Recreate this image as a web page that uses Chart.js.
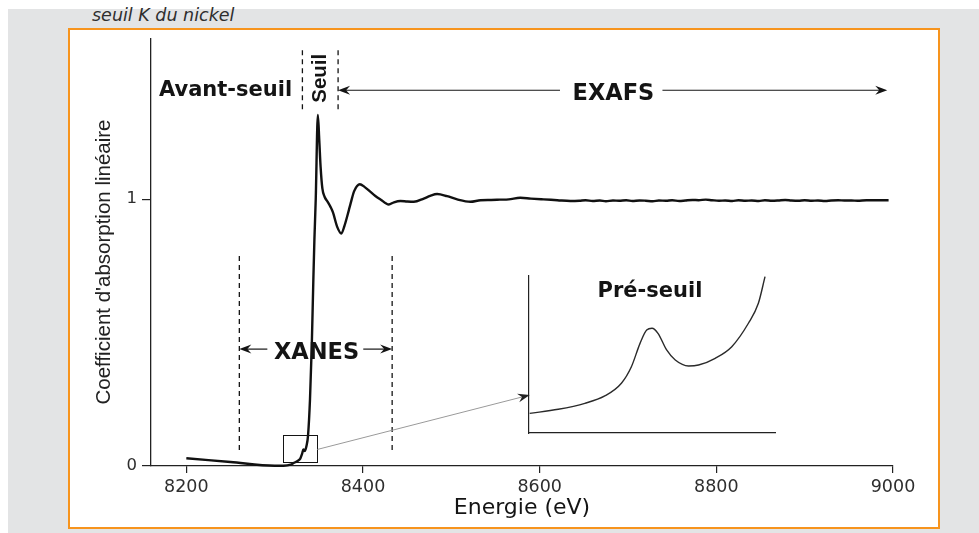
<!DOCTYPE html>
<html lang="fr">
<head>
<meta charset="utf-8">
<title>Seuil K du nickel</title>
<script src="https://cdn.jsdelivr.net/npm/chart.js@4.4.1/dist/chart.umd.min.js"></script>
<style>
  html, body { margin: 0; padding: 0; width: 979px; height: 533px; overflow: hidden; background: #fff; }
  #page { position: absolute; left: 8px; top: 9px; width: 971px; height: 524px; background: #e3e4e5; }
  #frame { position: absolute; left: 68px; top: 28px; width: 868px; height: 497px; border: 2px solid #f7941d; background: #fff; }
  #caption { position: absolute; left: 92px; top: 7px; font: italic 17.5px "DejaVu Sans", sans-serif; line-height: 1; color: #2e2e2e; white-space: nowrap; }
  #main { position: absolute; left: 0; top: 0; }
  #inset { position: absolute; left: 527px; top: 272px; }
</style>
</head>
<body>
<div id="page"></div>
<div id="frame"></div>
<div id="caption">seuil K du nickel</div>
<canvas id="main" width="979" height="533"></canvas>
<canvas id="inset" width="250" height="163"></canvas>
<script>
// Absorption spectrum at the Ni K edge: energy (eV) and linear absorption coefficient
const energy = [
  8200, 8250, 8300, 8310, 8318, 8322, 8326, 8329, 8331, 8332.5, 8334, 8336,
  8337.8, 8340, 8342, 8343.8, 8345, 8346.5, 8348.9, 8350.5, 8352, 8354, 8356.5,
  8360, 8363.2, 8366, 8370.8, 8375.5, 8379, 8384, 8386, 8390, 8396.4, 8402,
  8408.5, 8414, 8419.8, 8429.2, 8435, 8442.4, 8450, 8457.5, 8468.8, 8476, 8483.9,
  8495.2, 8506.6, 8521.6, 8533, 8545, 8555, 8565, 8578, 8590, 8604.5, 8620, 8634.7,
  8645, 8652, 8660, 8668, 8675, 8683, 8690, 8698, 8705, 8713, 8720, 8728, 8735,
  8743, 8750, 8758, 8765, 8773, 8780, 8788, 8795, 8803, 8810, 8818, 8825, 8833,
  8840, 8848, 8855, 8863, 8870, 8878, 8885, 8893, 8900, 8908, 8915, 8923, 8930,
  8938, 8945, 8953, 8960, 8970, 8980, 8995
];
const absorption = [
  0.029, 0.015, 0.001, 0.001, 0.005, 0.012, 0.019, 0.028, 0.045, 0.062, 0.056, 0.075,
  0.115, 0.25, 0.45, 0.70, 0.85, 1.00, 1.315, 1.22, 1.121, 1.04, 1.009,
  0.99, 0.971, 0.95, 0.896, 0.871, 0.90, 0.959, 0.984, 1.03, 1.056, 1.045,
  1.027, 1.012, 0.999, 0.980, 0.988, 0.993, 0.991, 0.990, 1.002, 1.012, 1.019,
  1.011, 0.999, 0.990, 0.996, 0.997, 0.998, 0.999, 1.005, 1.002, 0.999, 0.996, 0.993,
  0.994, 0.996, 0.993, 0.995, 0.992, 0.995, 0.994, 0.996, 0.993, 0.995, 0.994, 0.992, 0.995,
  0.994, 0.996, 0.993, 0.995, 0.997, 0.996, 0.998, 0.996, 0.994, 0.995, 0.993, 0.996, 0.994,
  0.995, 0.993, 0.996, 0.994, 0.995, 0.997, 0.995, 0.994, 0.996, 0.994, 0.995, 0.993, 0.995,
  0.996, 0.995, 0.995, 0.994, 0.996, 0.996, 0.996
];
const xTickValues = [8200, 8400, 8600, 8800, 9000];
const yTickValues = [0, 1];

// Pre-edge detail (zoomed view)
const insetEnergy = [
  8310.1, 8314.4, 8318.4, 8321.4, 8323.9, 8325.4, 8326.7, 8327.7, 8328.5, 8329.4,
  8330.7, 8332.0, 8334.0, 8335.5, 8338.0, 8340.5, 8343.0, 8344.5, 8345.5
];
const insetAbsorption = [
  0.0275, 0.0301, 0.0339, 0.0386, 0.0467, 0.0572, 0.0721, 0.0806, 0.0817, 0.0785,
  0.0679, 0.0615, 0.0577, 0.0583, 0.0626, 0.0700, 0.0849, 0.0976, 0.1146
];

// Spectral regions (energy bounds in eV)
const seuilBounds = [8331.4, 8371.8];
const xanesBounds = [8260, 8433];
const exafsEnd = 8993.5;
const zoomWindow = { e: [8309.8, 8348.3], mu: [0.016, 0.116] };

const INK = '#141414';
const SANS = '"DejaVu Sans", sans-serif';

function capText(ctx, text, x, y, font, rotated) {
  ctx.save();
  ctx.font = font;
  const capH = ctx.measureText('H').actualBoundingBoxAscent;
  ctx.translate(x, y);
  if (rotated) ctx.rotate(-Math.PI / 2);
  ctx.textAlign = 'center';
  ctx.textBaseline = 'alphabetic';
  ctx.fillText(text, 0, capH / 2);
  ctx.restore();
}

function arrowHead(ctx, x, y, angle) {
  ctx.save();
  ctx.translate(x, y);
  ctx.rotate(angle);
  ctx.beginPath();
  ctx.moveTo(0, 0);
  ctx.lineTo(-12, -4.5);
  ctx.lineTo(-8, 0);
  ctx.lineTo(-12, 4.5);
  ctx.closePath();
  ctx.fill();
  ctx.restore();
}

function seg(ctx, x1, y1, x2, y2) {
  ctx.beginPath();
  ctx.moveTo(x1, y1);
  ctx.lineTo(x2, y2);
  ctx.stroke();
}

const regionMarks = {
  id: 'regionMarks',
  afterDatasetsDraw(chart) {
    const { ctx, scales: { x, y } } = chart;
    const X = v => x.getPixelForValue(v);
    const Y = v => y.getPixelForValue(v);
    ctx.save();
    ctx.strokeStyle = INK;
    ctx.fillStyle = INK;

    // dashed region bounds
    ctx.lineWidth = 1.3;
    ctx.setLineDash([5, 4]);
    seuilBounds.forEach(e => seg(ctx, X(e), Y(1.558), X(e), Y(1.33)));
    xanesBounds.forEach(e => seg(ctx, X(e), Y(0.787), X(e), Y(0.049)));
    ctx.setLineDash([]);

    // XANES double arrow
    ctx.lineWidth = 1.2;
    const ya = Y(0.438);
    seg(ctx, X(xanesBounds[0]) + 6, ya, X(8291.7), ya);
    seg(ctx, X(8400.3), ya, X(xanesBounds[1]) - 6, ya);
    arrowHead(ctx, X(xanesBounds[0]), ya, Math.PI);
    arrowHead(ctx, X(xanesBounds[1]), ya, 0);

    // EXAFS arrow, starting at the end of the edge region
    const ye = Y(1.408);
    seg(ctx, X(seuilBounds[1]) + 6, ye, X(8623), ye);
    seg(ctx, X(8739), ye, X(exafsEnd) - 6, ye);
    arrowHead(ctx, X(seuilBounds[1]), ye, Math.PI);
    arrowHead(ctx, X(exafsEnd), ye, 0);

    // zoom window on the pre-edge
    ctx.lineWidth = 1;
    const bx = X(zoomWindow.e[0]), by = Y(zoomWindow.mu[1]);
    ctx.strokeRect(Math.round(bx) + 0.5, Math.round(by) + 0.5,
      Math.round(X(zoomWindow.e[1]) - bx), Math.round(Y(zoomWindow.mu[0]) - by));

    // connector to the detail view
    ctx.strokeStyle = '#9a9a9a';
    ctx.lineWidth = 1;
    const x0 = X(zoomWindow.e[1]), y0 = Y(0.062), x1 = X(8588.8), y1 = Y(0.266);
    const ang = Math.atan2(y1 - y0, x1 - x0);
    seg(ctx, x0, y0, x1 - 8 * Math.cos(ang), y1 - 8 * Math.sin(ang));
    ctx.fillStyle = '#222';
    arrowHead(ctx, x1, y1, ang);

    // region labels
    ctx.fillStyle = INK;
    capText(ctx, 'Avant-seuil', X(8244.4), Y(1.4157), 'bold 21px ' + SANS);
    capText(ctx, 'Seuil', X(8350.3), Y(1.453), 'bold 20.5px "Liberation Sans", Arial, sans-serif', true);
    capText(ctx, 'EXAFS', X(8683.5), Y(1.4035), 'bold 22.5px ' + SANS);
    capText(ctx, 'XANES', X(8347.4), Y(0.4345), 'bold 22.5px ' + SANS);

    ctx.restore();
  },
  afterDraw(chart) {
    const { ctx } = chart;
    ctx.save();
    ctx.fillStyle = '#222';
    capText(ctx, "Coefficient d'absorption linéaire", 103, 262,
      '20.5px "Liberation Sans", Arial, sans-serif', true);
    ctx.restore();
  }
};

new Chart(document.getElementById('main'), {
  type: 'line',
  data: {
    datasets: [{
      data: energy.map((e, i) => ({ x: e, y: absorption[i] })),
      borderColor: '#111',
      borderWidth: 2.4,
      pointRadius: 0,
      cubicInterpolationMode: 'monotone',
      clip: 6
    }]
  },
  options: {
    responsive: false,
    animation: false,
    events: [],
    layout: { padding: { top: 39, right: 86, bottom: 0, left: 0 } },
    plugins: { legend: { display: false }, tooltip: { enabled: false } },
    scales: {
      x: {
        type: 'linear',
        min: 8160,
        max: 9000,
        afterBuildTicks: s => { s.ticks = xTickValues.map(v => ({ value: v })); },
        afterFit: s => { s.height = 67; },
        grid: { drawOnChartArea: false, drawTicks: true, tickLength: 7, color: '#222', lineWidth: 1.2 },
        border: { display: true, color: '#222', width: 1.3 },
        ticks: { callback: v => String(v), color: '#2e2e2e', font: { family: 'DejaVu Sans', size: 17.5 }, padding: 4, maxRotation: 0 },
        title: { display: true, text: 'Energie (eV)', color: INK, font: { family: 'DejaVu Sans', size: 22 }, padding: { top: 0, bottom: 12 } }
      },
      y: {
        type: 'linear',
        min: 0,
        max: 1.6,
        afterBuildTicks: s => { s.ticks = yTickValues.map(v => ({ value: v })); },
        afterFit: s => { s.width = 151; },
        grid: { drawOnChartArea: false, drawTicks: true, tickLength: 9, color: '#222', lineWidth: 1.2 },
        border: { display: true, color: '#222', width: 1.3 },
        ticks: { callback: v => String(v), color: '#2e2e2e', font: { family: 'DejaVu Sans', size: 16.5 }, padding: 5 }
      }
    }
  },
  plugins: [regionMarks]
});

const insetLabel = {
  id: 'insetLabel',
  afterDraw(chart) {
    const { ctx, scales: { x, y } } = chart;
    ctx.save();
    ctx.fillStyle = INK;
    capText(ctx, 'Pré-seuil', x.getPixelForValue(8328.2), y.getPixelForValue(0.1067), 'bold 21px ' + SANS);
    ctx.restore();
  }
};

new Chart(document.getElementById('inset'), {
  type: 'line',
  data: {
    datasets: [{
      data: insetEnergy.map((e, i) => ({ x: e, y: insetAbsorption[i] })),
      borderColor: '#2a2a2a',
      borderWidth: 1.4,
      pointRadius: 0,
      cubicInterpolationMode: 'monotone'
    }]
  },
  options: {
    responsive: false,
    animation: false,
    events: [],
    layout: { padding: { top: 4, right: 2, bottom: 2, left: 2 } },
    plugins: { legend: { display: false }, tooltip: { enabled: false } },
    scales: {
      x: {
        type: 'linear', min: 8310, max: 8347,
        afterFit: s => { s.height = 0; },
        grid: { display: false, drawTicks: false },
        ticks: { display: false },
        border: { display: true, color: '#222', width: 1.2 }
      },
      y: {
        type: 'linear', min: 0.015, max: 0.115,
        afterFit: s => { s.width = 0; },
        grid: { display: false, drawTicks: false },
        ticks: { display: false },
        border: { display: true, color: '#222', width: 1.2 }
      }
    }
  },
  plugins: [insetLabel]
});
</script>
</body>
</html>
